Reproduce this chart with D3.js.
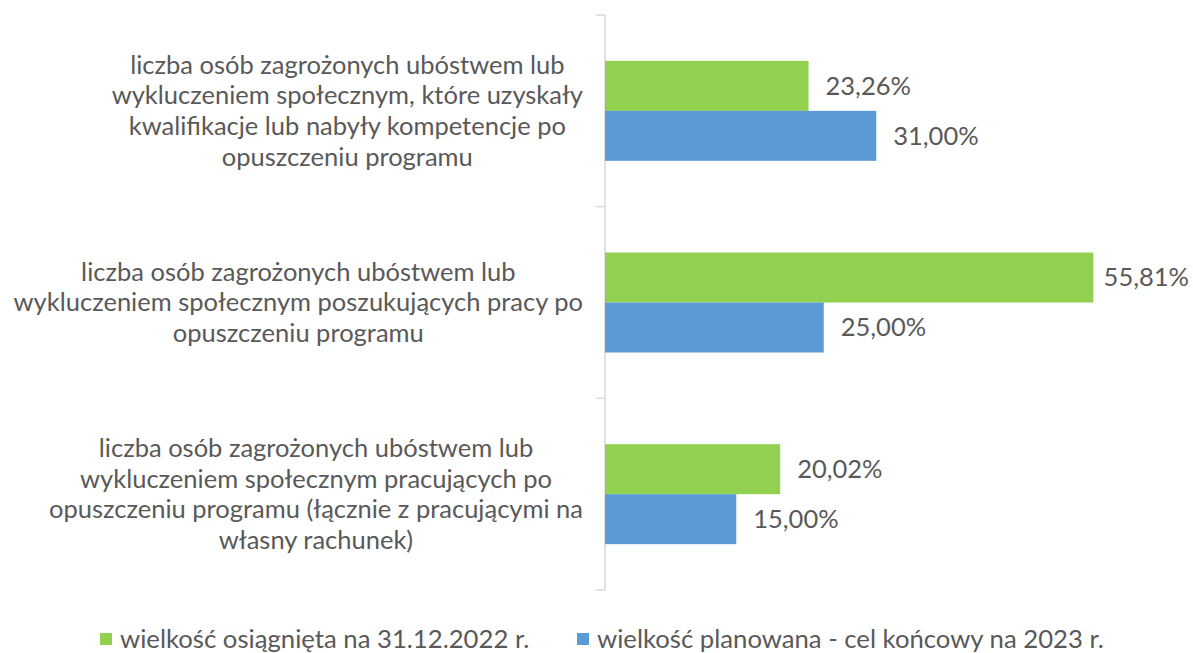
<!DOCTYPE html>
<html>
<head>
<meta charset="utf-8">
<script src="https://cdn.jsdelivr.net/npm/d3@7"></script>
<style>
body { margin: 0; background: #fff; }
text { font-family: Lato, "Open Sans", sans-serif; fill: #595959; }
</style>
</head>
<body>
<svg id="chart" width="1193" height="653"></svg>
<script>
var categories = ["c1", "c2", "c3"];
var categoryLines = [
	["liczba osób zagrożonych ubóstwem lub", "wykluczeniem społecznym, które uzyskały", "kwalifikacje lub nabyły kompetencje po", "opuszczeniu programu"],
	["liczba osób zagrożonych ubóstwem lub", "wykluczeniem społecznym poszukujących pracy po", "opuszczeniu programu"],
	["liczba osób zagrożonych ubóstwem lub", "wykluczeniem społecznym pracujących po", "opuszczeniu programu (łącznie z pracującymi na", "własny rachunek)"]
];
var seriesNames = ["wielkość osiągnięta na 31.12.2022 r.", "wielkość planowana - cel końcowy na 2023 r."];
var achieved = [23.26, 55.81, 20.02];
var planned = [31.00, 25.00, 15.00];
var colors = ["#92D050", "#5B9BD5"];

var svg = d3.select("#chart");
var fontSize = 25.5;
var legendSize = 25.7;

var x = d3.scaleLinear().domain([0, 60]).range([605, 1130]);
var y0 = d3.scaleBand().domain(categories).range([15, 590]);
var y1 = d3.scaleBand().domain([0, 1]).range([0, y0.bandwidth()]).paddingOuter(0.917);

var fmt = function(v) { return d3.format(".2f")(v).replace(".", ",") + "%"; };

// axis line + ticks between categories
var tickYs = categories.map(function(c) { return y0(c); }).concat([y0.range()[1]]);
svg.append("line").attr("x1", x(0)).attr("x2", x(0)).attr("y1", 15).attr("y2", 590)
	.attr("stroke", "#D9D9D9").attr("stroke-width", 1.5);
svg.selectAll(".tick").data(tickYs).enter().append("line")
	.attr("x1", x(0) - 9).attr("x2", x(0)).attr("y1", function(d) { return d; }).attr("y2", function(d) { return d; })
	.attr("stroke", "#D9D9D9").attr("stroke-width", 1.5);

var rows = categories.map(function(c, i) { return {cat: c, vals: [achieved[i], planned[i]], lines: categoryLines[i]}; });

var g = svg.selectAll(".grp").data(rows).enter().append("g")
	.attr("transform", function(d) { return "translate(0," + y0(d.cat) + ")"; });

g.selectAll("rect").data(function(d) { return d.vals; }).enter().append("rect")
	.attr("x", x(0))
	.attr("y", function(d, i) { return y1(i); })
	.attr("width", function(d) { return x(d) - x(0); })
	.attr("height", y1.bandwidth())
	.attr("fill", function(d, i) { return colors[i]; });

// value labels, pulled back in if they would run off the right edge
g.selectAll(".val").data(function(d) { return d.vals; }).enter().append("text")
	.attr("y", function(d, i) { return y1(i) + y1.bandwidth() / 2; })
	.attr("dy", "0.35em")
	.style("font-size", fontSize + "px")
	.text(fmt)
	.attr("x", function(d) { return Math.min(x(d) + 17, 1189 - this.getComputedTextLength()); });

// category labels: lines centred on the widest line, right edge at 583
g.each(function(d) {
	var grp = d3.select(this);
	var lh = 30.8;
	var n = d.lines.length;
	var cy = y0.bandwidth() / 2;
	var t = grp.append("text").style("font-size", fontSize + "px").attr("text-anchor", "middle");
	var spans = t.selectAll("tspan").data(d.lines).enter().append("tspan")
		.attr("y", function(l, i) { return cy + (i - (n - 1) / 2) * lh; })
		.attr("dy", "0.35em")
		.text(function(l) { return l; });
	var w = 0;
	spans.each(function() { w = Math.max(w, this.getComputedTextLength()); });
	spans.attr("x", 583 - w / 2);
});

// legend
var legX = [100, 577];
var leg = svg.selectAll(".leg").data(seriesNames).enter().append("g")
	.attr("transform", function(d, i) { return "translate(" + legX[i] + ",633)"; });
leg.append("rect").attr("width", 12).attr("height", 12).attr("fill", function(d, i) { return colors[i]; });
leg.append("text").attr("x", 20).attr("y", 6).attr("dy", "0.35em").style("font-size", legendSize + "px").text(function(d) { return d; });
</script>
</body>
</html>
